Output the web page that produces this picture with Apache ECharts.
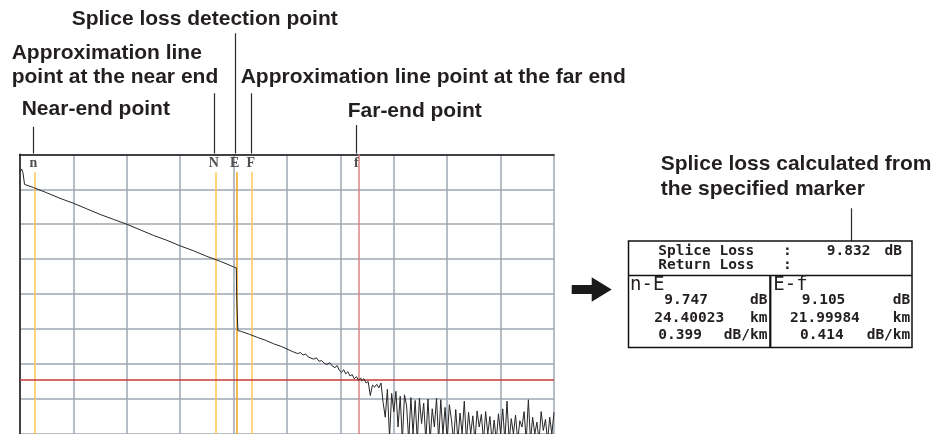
<!DOCTYPE html>
<html><head><meta charset="utf-8">
<script src="https://cdn.jsdelivr.net/npm/echarts@6/dist/echarts.min.js"></script>
<style>html,body{margin:0;padding:0;background:#fff}#c{width:940px;height:434px}</style>
</head><body><div id="c"></div>
<script>
// ---- data (distance in % of screen span, level in dB) ----
const traceDist = [
  0, 0.3, 0.55, 0.85, 1.15, 2.5, 5, 7.5, 10, 12.5, 15, 17.5, 20, 22.5, 25, 27.5, 30, 32.5, 35, 37.5, 40, 40.5,
  40.55, 40.6, 40.75, 40.8,
  41.5, 43, 44.5, 46, 47.5, 49, 50, 51, 52, 52.5, 53, 53.5, 54, 55, 55.5, 56, 56.5, 57, 57.5, 58, 58.5, 59, 59.4, 59.8,
  60.2, 60.6, 61, 61.4, 61.8, 62.2, 62.6, 63, 63.4, 63.8,
  64.0, 64.4, 64.8, 65.2, 65.6, 66.0, 66.4, 66.8, 67.2, 67.6, 68.0, 68.4, 68.8, 69.2, 69.6, 70.0, 70.4, 70.8, 71.2, 71.6,
  72.0, 72.4, 72.8, 73.2, 73.6, 74.0, 74.4, 74.8, 75.2, 75.6, 76.0, 76.4, 76.8, 77.2, 77.6, 78.0, 78.4, 78.8, 79.2, 79.6,
  80.0, 80.4, 80.8, 81.2, 81.6, 82.0, 82.4, 82.8, 83.2, 83.6, 84.0, 84.4, 84.8, 85.2, 85.6, 86.0, 86.4, 86.8, 87.2, 87.6,
  88.0, 88.4, 88.8, 89.2, 89.6, 90.0, 90.4, 90.8, 91.2, 91.6, 92.0, 92.4, 92.8, 93.2, 93.6, 94.0, 94.4, 94.8, 95.2, 95.6,
  96.0, 96.4, 96.8, 97.2, 97.6, 98.0, 98.4, 98.8, 99.2, 99.6, 100
];
const traceLevel = [
  -2.5, -2.1, -2.6, -4.3, -4.45, -4.75, -5.5, -6.3, -7.0, -7.8, -8.6, -9.3, -10.0, -10.8, -11.6, -12.3, -13.1, -13.8, -14.6, -15.3, -16.1, -16.25,
  -16.3, -20.8, -20.9, -25.2,
  -25.35, -25.75, -26.2, -26.6, -27.1, -27.5, -27.85, -28.2, -28.5, -28.35, -28.7, -28.55, -29.0, -29.3, -29.1, -29.6, -29.5, -29.9, -30.05, -29.8, -30.3, -30.5, -30.2, -30.9,
  -31.2, -30.8, -31.4, -31.1, -31.7, -31.5, -32.1, -31.8, -32.3, -32.0,
  -32.4, -32.1, -32.7, -32.5, -34.5, -33.0, -33.3, -32.9, -33.4, -32.7, -35.5, -37.6, -33.6, -40.5, -34.2, -36.8, -33.9, -39.0, -34.6, -41,
  -34.4, -36.0, -41, -34.8, -40, -35.2, -41, -34.9, -38.5, -35.6, -41, -35.0, -41, -36.4, -39, -34.9, -41, -35.1, -40, -36.2,
  -41, -35.8, -38, -41, -36.5, -41, -37.0, -40, -35.3, -41, -36.9, -40, -37.4, -41, -36.7, -39, -37.2, -41, -36.8, -40,
  -37.5, -41, -38.0, -41, -37.1, -40, -36.4, -41, -35.3, -41, -37.8, -40, -37.3, -41, -38.1, -39, -36.8, -41, -35.1, -41,
  -37.6, -40, -38.3, -41, -36.8, -39.5, -37.9, -41, -37.6, -40, -36.9
];
const markerNames = ['n', 'N', 'E', 'F', 'f'];
const markerPos = [2.68, 36.7, 40.5, 43.45, 63.4];
const labelPos = [2.5, 36.3, 40.2, 43.2, 63.0];
const markerTop = [-2.57, -2.57, -2.57, -2.57, 0];
const thresholdLevel = -32.3;
const summaryLabels = ['Splice Loss', 'Return Loss'];
const summaryValues = ['9.832', ''];
const summaryUnits = ['dB', ''];
const sectionNames = ['n-E', 'E-f'];
const sectionLoss = ['9.747', '9.105'];
const sectionDist = ['24.40023', '21.99984'];
const sectionCoef = ['0.399', '0.414'];

// ---- styles / layout ----
const markerColors = ['#ffc656', '#ffc656', '#f2a516', '#ffc656', '#d88484'];
const ANN_FONT = 'bold 21px "Liberation Sans", Arial, sans-serif';
const MONO = '"DejaVu Sans Mono", "Liberation Mono", monospace';
const INK = '#231f20';

const chart = echarts.init(document.getElementById('c'), null, {renderer: 'canvas'});

const markLineData = markerPos.map((p, i) => [
  {coord: [p, markerTop[i]], lineStyle: {color: markerColors[i], width: 1.5, type: 'solid'}},
  {coord: [p, -40]}
]);
markLineData.push([
  {coord: [0, thresholdLevel], lineStyle: {color: '#c83a3a', width: 1.5, type: 'solid'}},
  {coord: [100, thresholdLevel]}
]);

chart.setOption({
  animation: false,
  backgroundColor: '#fff',
  grid: {left: 20, top: 154.3, width: 534, height: 280, containLabel: false},
  xAxis: {
    type: 'value', min: 0, max: 100, interval: 10, position: 'top',
    axisLine: {show: true, onZero: false, lineStyle: {color: '#1a1a1a', width: 1.5}},
    axisTick: {show: false}, axisLabel: {show: false},
    splitLine: {show: true, lineStyle: {color: '#9ea7b0', width: 1.5}}
  },
  yAxis: {
    type: 'value', min: -40, max: 0, interval: 5,
    axisLine: {show: true, onZero: false, lineStyle: {color: '#1a1a1a', width: 1.5}},
    axisTick: {show: false}, axisLabel: {show: false},
    splitLine: {show: true, lineStyle: {color: '#9ea7b0', width: 1.5}}
  },
  series: [
    {
      type: 'line', data: traceDist.map((d, i) => [d, traceLevel[i]]),
      symbol: 'none', clip: true, z: 5,
      lineStyle: {color: '#262626', width: 1},
      markLine: {silent: true, symbol: ['none', 'none'], label: {show: false}, z: 3, data: markLineData}
    },
    {
      type: 'scatter', data: labelPos.map((p) => [p, -1.3]), symbolSize: 1,
      itemStyle: {color: 'rgba(0,0,0,0)'}, z: 6,
      label: {show: true, position: 'inside', formatter: (q) => markerNames[q.dataIndex],
        color: '#222', fontFamily: '"Liberation Serif", "DejaVu Serif", serif', fontWeight: 'bold', fontSize: 14}
    }
  ]
});

function txt(text, x, y, font, align) {
  return {type: 'text', x: x, y: y, silent: true, z: 20,
    style: {text: text, font: font, fill: INK, align: align || 'left', verticalAlign: 'middle',
      textAlign: align || 'left', textVerticalAlign: 'middle'}};
}
function line(x1, y1, x2, y2, w, color) {
  return {type: 'line', silent: true, z: 20, shape: {x1, y1, x2, y2}, style: {stroke: color || '#2a2a2a', lineWidth: w || 1.2}};
}

const leaderTops = [126.7, 93.3, 33.3, 93.3, 125];
const g = [];
labelPos.forEach((p, i) => {
  const px = Math.round(chart.convertToPixel({xAxisIndex: 0}, p)) + 0.5;
  g.push(line(px, leaderTops[i], px, 153.5, 1.2));
});
// annotations
g.push(txt('Splice loss detection point', 71.7, 19.6, ANN_FONT));
g.push(txt('Approximation line', 11.7, 53.6, ANN_FONT));
g.push(txt('point at the near end', 11.7, 77.2, ANN_FONT));
g.push(txt('Approximation line point at the far end', 240.7, 77.2, ANN_FONT));
g.push(txt('Near-end point', 21.7, 109.4, ANN_FONT));
g.push(txt('Far-end point', 347.7, 111.1, ANN_FONT));
g.push(txt('Splice loss calculated from', 660.7, 164.4, ANN_FONT));
g.push(txt('the specified marker', 660.7, 188.8, ANN_FONT));
g.push(line(851.5, 208.3, 851.5, 241, 1.2));
// arrow
g.push({type: 'polygon', silent: true, z: 20,
  shape: {points: [[571.7, 285], [591.7, 285], [591.7, 277.3], [611.7, 289.4], [591.7, 301.7], [591.7, 294], [571.7, 294]]},
  style: {fill: '#1a1a1a'}});
// table frame
g.push({type: 'rect', silent: true, z: 20, shape: {x: 628.5, y: 241, width: 283.5, height: 106.5}, style: {fill: '#fff', stroke: '#111', lineWidth: 1.5}});
g.push(line(628.5, 275.5, 912, 275.5, 1.5, '#111'));
g.push(line(770.3, 275.5, 770.3, 347.5, 2.2, '#111'));
// table text
const ROW_FONT = 'bold 14.5px ' + MONO;
const SEC_FONT = '19px ' + MONO;
summaryLabels.forEach((s, i) => {
  const y = [251.4, 265.4][i];
  g.push(txt(s, 658.3, y, ROW_FONT));
  g.push(txt(':', 787.3, y, ROW_FONT, 'center'));
  if (summaryValues[i]) g.push(txt(summaryValues[i], 870.5, y, ROW_FONT, 'right'));
  if (summaryUnits[i]) g.push(txt(summaryUnits[i], 902, y, ROW_FONT, 'right'));
});
const secLeft = [630, 773.3];
const lossX = [664.3, 801.7], distX = [654.3, 790], coefX = [658.3, 800];
const unitRight = [767.5, 910.3];
sectionNames.forEach((s, i) => {
  g.push(txt(s, secLeft[i], 285.2, SEC_FONT));
  g.push(txt(sectionLoss[i], lossX[i], 300.2, ROW_FONT));
  g.push(txt('dB', unitRight[i], 300.2, ROW_FONT, 'right'));
  g.push(txt(sectionDist[i], distX[i], 318, ROW_FONT));
  g.push(txt('km', unitRight[i], 318, ROW_FONT, 'right'));
  g.push(txt(sectionCoef[i], coefX[i], 335.7, ROW_FONT));
  g.push(txt('dB/km', unitRight[i], 335.7, ROW_FONT, 'right'));
});
chart.setOption({graphic: {elements: g}});
</script>
</body></html>
